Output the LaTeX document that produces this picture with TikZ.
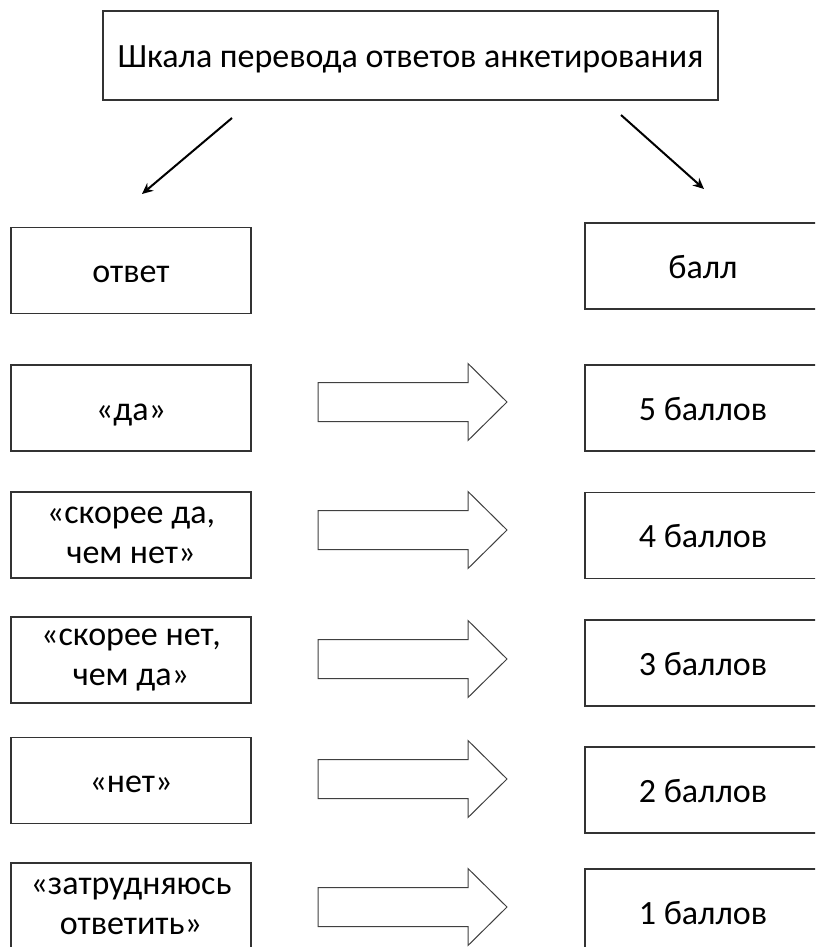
\documentclass[tikz,border=0pt]{standalone}
\usepackage{fontspec}
\setmainfont{Carlito}
\usetikzlibrary{arrows.meta}

\tikzset{
  box/.style={draw=black!80, line width=1.2pt, inner sep=0pt, align=center,
    minimum width=240pt, minimum height=86pt,
    font=\fontsize{34}{40}\selectfont},
  oneline/.style={text height=24pt, text depth=0pt},
  bigarrow/.style={draw=black!75, line width=1pt, fill=white},
  link/.style={line width=2pt, -{Stealth[length=11pt,width=10pt]}}
}

\begin{document}
\begin{tikzpicture}[x=1pt,y=-1pt]
\useasboundingbox (0,0) rectangle (815,947);
\clip (0,0) rectangle (815,946);

% heading
\node[box, oneline, minimum width=615pt, minimum height=89pt] (scale) at (410.5,55.5)
  {Шкала перевода ответов анкетирования};

% column heads
\node[box, oneline] (ans) at (131,270.5) {ответ};
\node[box, oneline, minimum width=236pt] (pts) at (703,266) {балл};

\coordinate (la) at (232,118);
\coordinate (lb) at (142,194);
\coordinate (ra) at (621,115);
\coordinate (rb) at (704,189);
\draw[link] (la) -- (lb);
\draw[link] (ra) -- (rb);

% rows: left y / right y / arrow y / style / answer / points
\foreach \ly/\ry/\ay/\st/\ans/\pts [count=\i] in {
  408/408/402/oneline/{«да»}/{5 баллов},
  535/535.5/530//{«скорее да,\\чем нет»}/{4 баллов},
  660/663/659//{«скорее нет,\\чем да»}/{3 баллов},
  780.5/790/779/oneline/{«нет»}/{2 баллов},
  906/912/907//{«затрудняюсь\\ответить»}/{1 баллов}}
{
  \node[box, \st] (a\i) at (131,\ly) {\ans};
  \node[box, oneline, minimum width=236pt] (p\i) at (703,\ry) {\pts};
  \draw[bigarrow] (318,\ay-19.5) -- (468,\ay-19.5) -- (468,\ay-38.5)
    -- (507,\ay) -- (468,\ay+38.5) -- (468,\ay+19.5) -- (318,\ay+19.5) -- cycle;
}

\end{tikzpicture}
\end{document}
